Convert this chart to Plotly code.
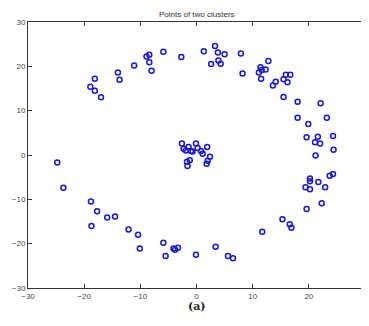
import plotly.graph_objects as go

ring_x = [-18.9, -18.1, -18.1, -17.0, -14.0, -13.7, -11.1, -8.9, -8.4, -8.4, -8.0, -5.9, -2.7,
          1.3, 2.6, 3.3, 3.8, 3.9, 4.3, 5.0, 7.9, 8.2, 11.1, 11.4, 11.6, 11.5, 12.3, 12.8, 13.6,
          14.1, 15.5, 15.9, 16.2, 16.7, 15.5, 18.0, 22.1,
          -24.8, -23.7, -18.8, 18.0, 19.9, 23.2, 19.6, 21.6, 21.1, 22.0, 24.3, 24.4, 21.2,
          20.2, 20.2, 21.7, 19.4, 20.2, 22.9, 23.7, 24.3, 19.6, 22.3,
          -17.7, -18.7, -15.9, -14.5, -12.1, -10.4, -10.1, -5.9, -5.5, -4.1, -3.8, -3.3, -0.1,
          3.4, 5.6, 6.5, 11.7, 15.3, 16.6, 16.9]
ring_y = [15.4, 17.2, 14.5, 13.0, 18.6, 17.0, 20.2, 22.2, 22.6, 20.9, 19.0, 23.3, 22.1,
          23.4, 20.5, 24.6, 23.1, 21.3, 20.6, 22.7, 22.9, 18.4, 18.6, 19.8, 19.2, 17.2, 19.3, 21.2, 15.7,
          16.5, 17.1, 18.1, 16.4, 18.1, 13.1, 12.0, 11.7,
          -1.7, -7.4, -10.5, 8.4, 7.0, 8.4, 4.0, 4.1, 2.9, 2.6, 4.3, 1.2, -0.1,
          -5.3, -5.9, -6.1, -7.3, -7.7, -7.3, -4.7, -4.3, -12.2, -10.9,
          -12.7, -16.0, -14.1, -13.9, -16.8, -18.0, -21.1, -19.8, -22.8, -21.1, -21.4, -20.9, -22.5,
          -20.7, -22.8, -23.3, -17.3, -14.5, -15.6, -16.4]

core_x = [-2.6, -2.3, -1.9, -1.4, -1.0, -0.7, -0.1, 0.2, 0.8, 1.1, 1.9, 2.4, 2.0, 1.8, -1.2, -1.7, -1.6]
core_y = [2.6, 1.4, 1.0, 1.8, 0.9, 0.8, 2.6, 1.6, 0.9, 0.3, 1.8, -0.4, -1.3, -2.0, -1.2, -1.5, -2.5]

tick_vals = [-30, -20, -10, 0, 10, 20, 30]
tick_text = ["\u221230", "\u221220", "\u221210", "0", "10", "20", "30"]

marker = dict(symbol="circle-open", size=5, color="#1a1acc", line=dict(width=1.5, color="#1a1acc"))

fig = go.Figure()
fig.add_trace(go.Scatter(x=ring_x + core_x, y=ring_y + core_y, mode="markers", marker=marker,
                         showlegend=False, hoverinfo="skip"))

axis_common = dict(range=[-30, 30], tickvals=tick_vals, ticktext=tick_text, ticks="inside",
                   ticklen=4, tickcolor="#333", showgrid=False, zeroline=False, showline=True,
                   linecolor="#333", linewidth=1, mirror="ticks", automargin=False,
                   tickfont=dict(family="Liberation Sans, Arial", size=8, color="#444"))

# The page body has an 8px default margin, so the figure is sized 8px smaller.
fig.update_layout(
    template="none",
    width=361, height=318,
    margin=dict(l=20, r=4, t=14, b=38, autoexpand=False),
    paper_bgcolor="white", plot_bgcolor="white",
    xaxis=axis_common,
    yaxis=axis_common,
    title=dict(text="Points of two clusters", x=0.523, xanchor="center", y=0.981, yanchor="middle",
               font=dict(family="Liberation Sans, Arial", size=8, color="#333")),
    annotations=[dict(text="<b>(a)</b>", xref="paper", yref="paper", x=0.5, y=-0.070,
                      xanchor="center", yanchor="middle", showarrow=False,
                      font=dict(family="DejaVu Serif, serif", size=11, color="#222"))],
)

fig.write_html("out.html")
